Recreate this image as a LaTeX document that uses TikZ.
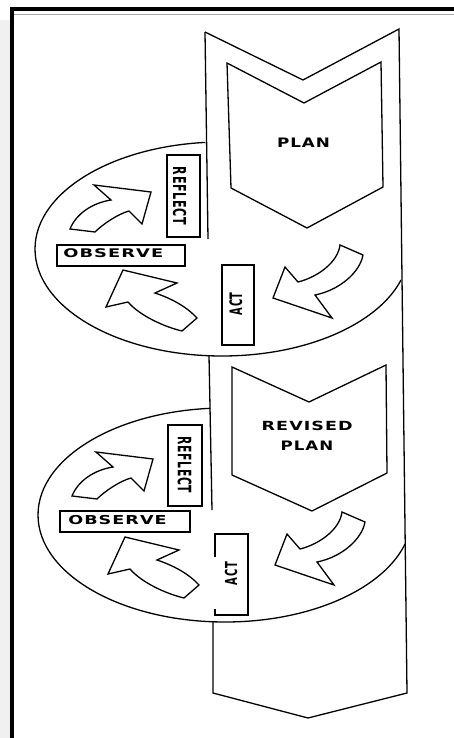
\documentclass[tikz,border=0pt]{standalone}
\usepackage{fontspec}
\usepackage{graphicx}
\newfontfamily\lblfont[LetterSpace=6]{DejaVu Sans}
\tikzset{
  ln/.style={line width=1.3pt, line join=miter},
  boxst/.style={draw, line width=1.3pt, inner sep=0pt, fill=white},
  txt/.style={inner sep=0pt, outer sep=0pt},
  blk/.style={draw, line width=1.3pt, fill=white, line join=miter}
}
\newcommand\hlab[3]{\resizebox*{#1pt}{#2pt}{\lblfont\bfseries #3}}
\newcommand\vlab[4]{\resizebox*{#1pt}{#2pt}{\rotatebox{#3}{\lblfont\bfseries #4}}}
\newcommand\cyclearrows{%
  % arrow from plan to act
  \draw[blk] (340,245) -- (363,255) .. controls (360,272) and (340,290) .. (315,295)
     -- (332,318) -- (273,298) -- (285,267) -- (298,282)
     .. controls (318,277) and (338,262) .. (340,245) -- cycle;
  % arrow from act to observe
  \draw[blk] (197,318) -- (182,331) .. controls (165,327) and (140,316) .. (128,302)
     -- (106,307) -- (123,270) -- (177,283) -- (155,293)
     .. controls (170,298) and (186,306) .. (197,318) -- cycle;
  % arrow from observe to reflect
  \draw[blk] (70,229) .. controls (76,214) and (92,203) .. (111,200)
     -- (94,185) -- (151,192) -- (142,224) -- (129,211)
     .. controls (118,214) and (103,224) .. (95,232) -- cycle;
}
\begin{document}
\begin{tikzpicture}[x=1pt,y=-1pt]
\useasboundingbox (0,0) rectangle (454,738);
\fill[white] (0,0) rectangle (454,738);
\fill[gray!12] (0,20) rectangle (10,738);
% frame
\fill[black] (10,7) rectangle (454,11);
\fill[black] (10,7) rectangle (14,738);
\draw[gray!70, line width=0.8pt] (14,14.5) -- (454,14.5);

% ellipses
\coordinate (e1) at (222,249);
\coordinate (e2) at (225,515);
\begin{scope}
  \clip (-10,-10) -- (205,-10) -- (205,142.5) -- (401,280) -- (401,800) -- (-10,800) -- cycle;
  \draw[ln] (e1) ellipse [x radius=187, y radius=107];
\end{scope}
\begin{scope}
  \clip (-10,-10) -- (210,-10) -- (210,408.5) -- (405,544) -- (405,800) -- (-10,800) -- cycle;
  \draw[ln] (e2) ellipse [x radius=187, y radius=107];
\end{scope}

% band
\coordinate (bTL) at (205,32);
\coordinate (bTN) at (303,80);
\coordinate (bTR) at (399,29);
\coordinate (bBR) at (407,693);
\coordinate (bBP) at (308,718);
\coordinate (bBL) at (213,693);
\draw[ln] (bTL) -- (bTN) -- (bTR) -- (bBR) -- (bBP) -- (bBL) -- (213,621);
\draw[ln] (bTL) -- (208,239);
\draw[ln] (209,355.5) -- (212,510);

% chevrons
\draw[ln] (227,63) -- (304,103) -- (381,62) -- (383,187) -- (307,228) -- (231,188) -- cycle;
\draw[ln] (232,367) -- (309,402) -- (386,365) -- (387,473) -- (312,511) -- (232,475) -- cycle;

% boxes, first cycle
\node[boxst, minimum width=33pt, minimum height=82pt] (refbox1) at (183.5,196) {};
\node[boxst, minimum width=128pt, minimum height=21pt] (obsbox1) at (121,255.5) {};
\node[boxst, minimum width=32pt, minimum height=80pt] (actbox1) at (238,305) {};
% boxes, second cycle
\node[boxst, minimum width=34pt, minimum height=81pt] (refbox2) at (185,465.5) {};
\node[boxst, minimum width=130pt, minimum height=21pt] (obsbox2) at (125,521.5) {};
\draw[ln] (215,557) -- (215,534) -- (248,534) -- (248,615) -- (215,615) -- (215,609);

% block arrows
\cyclearrows
\begin{scope}[shift={(2,267)}]
\cyclearrows
\end{scope}

% labels
\node[txt] (plan1) at (303.5,143) {\hlab{53}{9.5}{PLAN}};
\node[txt] (obs1) at (113.3,252.8) {\hlab{100}{9}{OBSERVE}};
\node[txt] (ref1) at (179.5,196) {\vlab{13.5}{58}{-90}{REFLECT}};
\node[txt] (act1) at (235.8,303.7) {\vlab{13}{22.7}{90}{ACT}};
\node[txt] (rev2) at (307.2,426.2) {\hlab{91}{9.5}{REVISED}};
\node[txt] (plan2) at (307,445.3) {\hlab{52.6}{9.5}{PLAN}};
\node[txt] (obs2) at (117.5,519.7) {\hlab{98.4}{9.3}{OBSERVE}};
\node[txt] (ref2) at (184.5,465) {\vlab{14}{56.5}{-90}{REFLECT}};
\node[txt] (act2) at (231,573.5) {\vlab{12.5}{23}{90}{ACT}};
\end{tikzpicture}
\end{document}
